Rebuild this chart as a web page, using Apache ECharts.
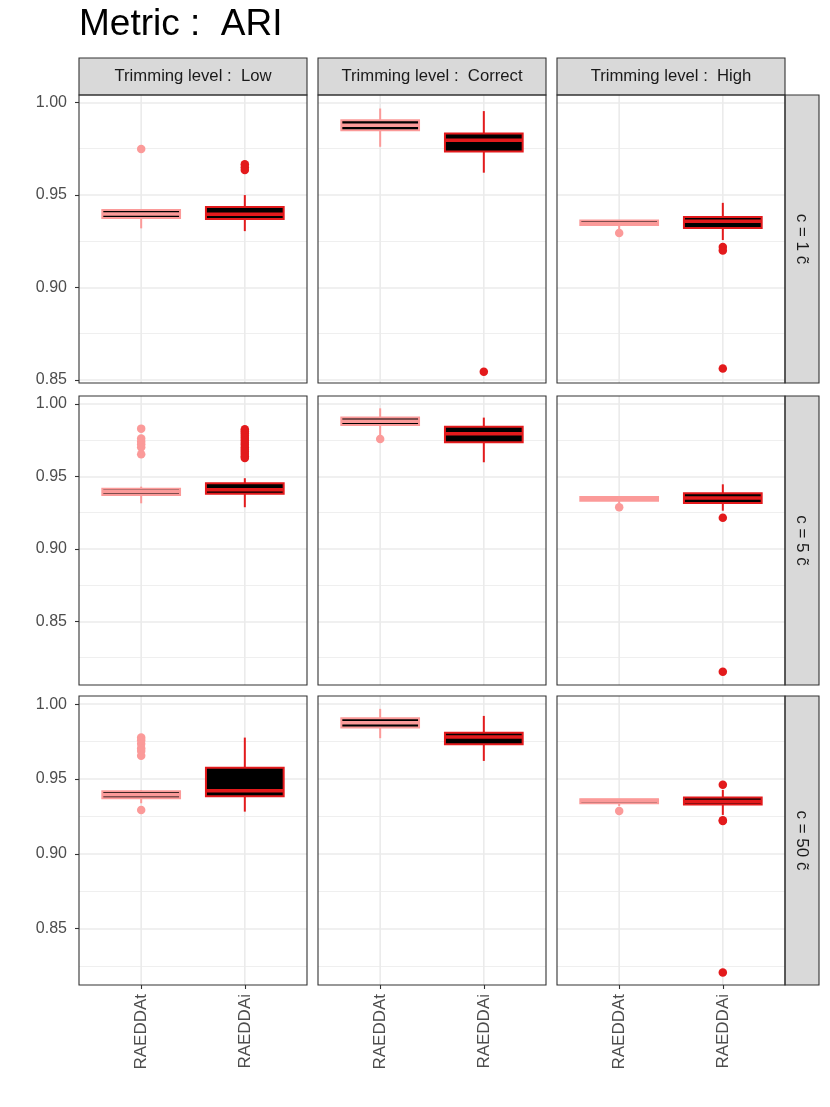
<!DOCTYPE html>
<html>
<head>
<meta charset="UTF-8">
<title>Metric : ARI</title>
<script src="https://cdn.jsdelivr.net/npm/echarts@6.0.0/dist/echarts.min.js"></script>
<style>
  body { margin: 0; background: #fff; }
  #chart { width: 830px; height: 1107px; }
</style>
</head>
<body>
<div id="chart"></div>
<script>
// categories
var methods = ['RAEDDAt', 'RAEDDAi'];
var trimLevels = ['Low', 'Correct', 'High'];
var cLabels = ['c = 1 c\u0303', 'c = 5 c\u0303', 'c = 50 c\u0303'];

// box stats [min, Q1, median, Q3, max] -> per trimming level: [RAEDDAt, RAEDDAi]
var boxC1 = [
  [[0.9319, 0.9375, 0.9396, 0.9418, 0.9420], [0.9304, 0.9369, 0.9395, 0.9434, 0.9499]],
  [[0.9760, 0.9850, 0.9876, 0.9904, 0.9967], [0.9620, 0.9735, 0.9795, 0.9832, 0.9953]],
  [[0.9310, 0.9337, 0.9344, 0.9362, 0.9362], [0.9256, 0.9321, 0.9357, 0.9380, 0.9457]]
];
var boxC5 = [
  [[0.9315, 0.9372, 0.9395, 0.9416, 0.9430], [0.9288, 0.9381, 0.9409, 0.9453, 0.9488]],
  [[0.9786, 0.9855, 0.9881, 0.9906, 0.9970], [0.9598, 0.9736, 0.9795, 0.9843, 0.9906]],
  [[0.9315, 0.9333, 0.9346, 0.9359, 0.9359], [0.9264, 0.9317, 0.9352, 0.9384, 0.9446]]
];
var boxC50 = [
  [[0.9338, 0.9372, 0.9395, 0.9419, 0.9425], [0.9282, 0.9385, 0.9421, 0.9576, 0.9777]],
  [[0.9773, 0.9844, 0.9877, 0.9906, 0.9969], [0.9621, 0.9733, 0.9781, 0.9810, 0.9922]],
  [[0.9320, 0.9338, 0.9357, 0.9365, 0.9365], [0.9260, 0.9329, 0.9349, 0.9376, 0.9427]]
];

// outliers -> per trimming level: [RAEDDAt, RAEDDAi]
var outC1 = [
  [[0.9748], [0.9666, 0.9650, 0.9634]],
  [[], [0.8544]],
  [[0.9294], [0.9218, 0.9200, 0.8562]]
];
var outC5 = [
  [[0.9830, 0.9762, 0.9741, 0.9722, 0.9701, 0.9653],
   [0.9825, 0.9812, 0.9798, 0.9781, 0.9766, 0.9750, 0.9733, 0.9718, 0.9702, 0.9686, 0.9671, 0.9655, 0.9640, 0.9627]],
  [[0.9759], []],
  [[0.9288], [0.9216, 0.8154]]
];
var outC50 = [
  [[0.9778, 0.9760, 0.9735, 0.9705, 0.9688, 0.9655, 0.9293], []],
  [[], []],
  [[0.9287], [0.9461, 0.9225, 0.9219, 0.8206]]
];

// y ranges per row and labelled ticks
var rowRanges = [[0.8483, 1.0040], [0.8062, 1.0055], [0.8123, 1.0055]];
var yTicks = [0.85, 0.90, 0.95, 1.00];
var xTicks = [1, 2];

var rowBoxes = [boxC1, boxC5, boxC50];
var rowOutliers = [outC1, outC5, outC50];
var colors = ['#FB9A99', '#E31A1C'];

var FONT = '"Liberation Sans", Arial, Helvetica, sans-serif';
var colLeft = [79, 318, 557], colW = 228;
var rowTop = [95, 396, 696], rowH = [288, 289, 289];

var chart = echarts.init(document.getElementById('chart'), null, {renderer: 'canvas'});

function renderBox(params, api) {
  var xv = api.value(0);
  var color = colors[xv - 1];
  var cs = params.coordSys;
  var pMin = api.coord([xv, api.value(1)]);
  var pQ1 = api.coord([xv, api.value(2)]);
  var pMed = api.coord([xv, api.value(3)]);
  var pQ3 = api.coord([xv, api.value(4)]);
  var pMax = api.coord([xv, api.value(5)]);
  var x = pMin[0];
  var half = api.size([1, 0])[0] * 0.375;
  return {
    type: 'group',
    children: [
      {type: 'line', silent: true, shape: {x1: x, y1: cs.y, x2: x, y2: cs.y + cs.height},
       style: {stroke: '#EBEBEB', lineWidth: 1.6}},
      {type: 'line', shape: {x1: x, y1: pMax[1], x2: x, y2: pQ3[1]},
       style: {stroke: color, lineWidth: 2}},
      {type: 'line', shape: {x1: x, y1: pQ1[1], x2: x, y2: pMin[1]},
       style: {stroke: color, lineWidth: 2}},
      {type: 'rect', shape: {x: x - half, y: pQ3[1], width: half * 2, height: pQ1[1] - pQ3[1]},
       style: {fill: '#000', stroke: color, lineWidth: 2}},
      {type: 'line', shape: {x1: x - half, y1: pMed[1], x2: x + half, y2: pMed[1]},
       style: {stroke: color, lineWidth: 3.5}}
    ]
  };
}

var grids = [], xAxes = [], yAxes = [], series = [], graphics = [];

graphics.push({
  type: 'text', x: 79, y: 25, z: 100,
  style: {text: 'Metric :  ARI', font: '37px ' + FONT, fill: '#000', verticalAlign: 'middle'}
});

for (var c = 0; c < 3; c++) {
  graphics.push({
    type: 'rect', z: 100,
    shape: {x: colLeft[c], y: 58, width: colW, height: 37},
    style: {fill: '#D9D9D9', stroke: '#333333', lineWidth: 1.1}
  });
  graphics.push({
    type: 'text', z: 101, x: colLeft[c] + colW / 2, y: 76.5,
    style: {text: 'Trimming level :  ' + trimLevels[c], font: '16.7px ' + FONT, fill: '#1A1A1A',
            align: 'center', verticalAlign: 'middle'}
  });
}

for (var r = 0; r < 3; r++) {
  graphics.push({
    type: 'rect', z: 100,
    shape: {x: 785, y: rowTop[r], width: 34, height: rowH[r]},
    style: {fill: '#D9D9D9', stroke: '#333333', lineWidth: 1.1}
  });
  graphics.push({
    type: 'text', z: 101, x: 802, y: rowTop[r] + rowH[r] / 2, rotation: -Math.PI / 2,
    style: {text: cLabels[r], font: '17px ' + FONT, fill: '#1A1A1A',
            align: 'center', verticalAlign: 'middle'}
  });

  for (var c2 = 0; c2 < 3; c2++) {
    var k = r * 3 + c2;
    grids.push({left: colLeft[c2], top: rowTop[r], width: colW, height: rowH[r],
                outerBoundsMode: 'none', containLabel: false});
    graphics.push({
      type: 'rect', z: 100,
      shape: {x: colLeft[c2], y: rowTop[r], width: colW, height: rowH[r]},
      style: {fill: 'none', stroke: '#333333', lineWidth: 1.1}
    });
    xAxes.push({
      type: 'value', gridIndex: k, min: 0.4, max: 2.6,
      axisLine: {show: false},
      axisTick: {show: r === 2, length: 4, customValues: xTicks,
                 lineStyle: {color: '#333333', width: 1.1}},
      axisLabel: {show: r === 2, customValues: xTicks, rotate: 90, margin: 9, color: '#4D4D4D',
                  fontSize: 17, fontFamily: FONT,
                  formatter: function (v) { return methods[Math.round(v) - 1]; }},
      splitLine: {show: false}
    });
    yAxes.push({
      type: 'value', gridIndex: k, min: rowRanges[r][0], max: rowRanges[r][1],
      splitNumber: 3, minInterval: 0.05, maxInterval: 0.05,
      axisLine: {show: false},
      axisTick: {show: c2 === 0, length: 4, customValues: yTicks,
                 lineStyle: {color: '#333333', width: 1.1}},
      axisLabel: {show: c2 === 0, customValues: yTicks, margin: 12, color: '#4D4D4D',
                  fontSize: 16, fontFamily: FONT,
                  formatter: function (v) { return v.toFixed(2); }},
      splitLine: {show: true, lineStyle: {color: '#EBEBEB', width: 1.6}},
      minorTick: {show: false, splitNumber: 2},
      minorSplitLine: {show: true, lineStyle: {color: '#EBEBEB', width: 0.8}}
    });

    var stats = rowBoxes[r][c2];
    series.push({
      type: 'custom', xAxisIndex: k, yAxisIndex: k,
      renderItem: renderBox,
      encode: {x: 0, y: [1, 2, 3, 4, 5]},
      data: stats.map(function (s, i) { return [xTicks[i]].concat(s); }),
      silent: true, z: 2
    });

    var outs = rowOutliers[r][c2];
    var pts = [];
    outs.forEach(function (vals, i) {
      vals.forEach(function (v) {
        pts.push({value: [xTicks[i], v], itemStyle: {color: colors[i], opacity: 1}});
      });
    });
    series.push({
      type: 'scatter', xAxisIndex: k, yAxisIndex: k,
      symbol: 'circle', symbolSize: 8.5, data: pts, silent: true, z: 3
    });
  }
}

chart.setOption({
  animation: false,
  backgroundColor: '#fff',
  grid: grids,
  xAxis: xAxes,
  yAxis: yAxes,
  series: series,
  graphic: graphics
});
</script>
</body>
</html>
